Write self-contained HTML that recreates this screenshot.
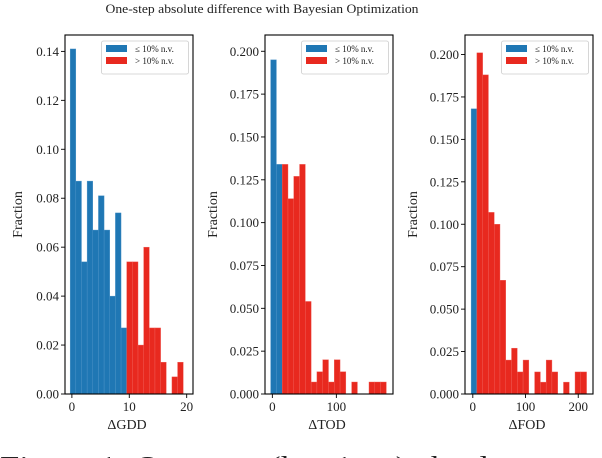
<!DOCTYPE html>
<html><head><meta charset="utf-8"><style>
html,body{margin:0;padding:0;background:#fff;overflow:hidden;width:602px;height:458px}
svg text{font-family:"Liberation Serif","Times New Roman",serif;fill:#222}
</style></head><body>
<svg id="chart" width="602" height="458" viewBox="0 0 602 458" xmlns="http://www.w3.org/2000/svg" font-family="Liberation Serif, serif">
<text x="262" y="13" font-size="13" font-family="Liberation Serif, serif" text-anchor="middle" textLength="313" lengthAdjust="spacingAndGlyphs">One-step absolute difference with Bayesian Optimization</text>
<text x="0" y="476" font-size="28" font-family="Liberation Serif, serif" textLength="602" lengthAdjust="spacingAndGlyphs">Figure 1: One-step (k = 1, ...) absolute to ...</text>
</svg>
<script>
const gddBlue=[0.141,0.087,0.054,0.087,0.067,0.081,0.067,0.040,0.074,0.027];
const gddRed=[0.054,0.054,0.020,0.060,0.027,0.027,0.013,0,0.007,0.013];
const todBlue=[0.195,0.134];
const todRed=[0.134,0.114,0.127,0.134,0.054,0.007,0.013,0.020,0.007,0.020,0.013,0,0.007,0,0,0.007,0.007,0.007];
const fodBlue=[0.168];
const fodRed=[0.201,0.188,0.107,0.100,0.067,0.020,0.027,0.013,0.020,0,0.013,0.007,0.020,0.013,0,0.007,0,0.013,0.013];
const gddYTicks=["0.00","0.02","0.04","0.06","0.08","0.10","0.12","0.14"];
const todYTicks=["0.000","0.025","0.050","0.075","0.100","0.125","0.150","0.175","0.200"];
const fodYTicks=todYTicks;
const gddXTicks=[0,10,20];
const todXTicks=[0,100];
const fodXTicks=[0,100,200];
const xLabels=["\u0394GDD","\u0394TOD","\u0394FOD"];

const svg=document.getElementById('chart');
const NS="http://www.w3.org/2000/svg";
const FF="Liberation Serif, serif";
function mk(tag,attrs,parent){const e=document.createElementNS(NS,tag);for(const k in attrs)e.setAttribute(k,attrs[k]);if(tag==='text')e.setAttribute('font-family',FF);(parent||svg).appendChild(e);return e;}

const panels=[
 {L:65,blue:gddBlue,red:gddRed,yt:gddYTicks,ystep:0.02,ymax:0.1467,xt:gddXTicks,xmin:-1.2,xmax:21.1,x0:-0.3,bw:0.985,xl:xLabels[0],name:'gdd'},
 {L:265,blue:todBlue,red:todRed,yt:todYTicks,ystep:0.025,ymax:0.2095,xt:todXTicks,xmin:-11.5,xmax:188.5,x0:-2.7,bw:9.04,xl:xLabels[1],name:'tod'},
 {L:465,blue:fodBlue,red:fodRed,yt:fodYTicks,ystep:0.025,ymax:0.2115,xt:fodXTicks,xmin:-14.8,xmax:228,x0:-3.2,bw:10.95,xl:xLabels[2],name:'fod'}
];
const T=35,B=394,W=128;
panels.forEach(p=>{
  const L=p.L,R=L+W;
  const g=mk('g',{});
  
  
  const y=v=>B-(v/p.ymax)*(B-T);
  const x=v=>L+(v-p.xmin)/(p.xmax-p.xmin)*W;
  const vals=p.blue.concat(p.red);
  vals.forEach((v,i)=>{
    if(v<=0)return;
    const x1=x(p.x0+i*p.bw),x2=x(p.x0+(i+1)*p.bw);
    const isBlue=i<p.blue.length;
    const r=mk('rect',{x:x1,y:y(v),width:x2-x1,height:B-y(v),fill:isBlue?'#1f77b4':'#e8291f',stroke:isBlue?'#4f95c8':'#f0605a','stroke-width':0.4},g);
    
    
  });
  const frame=mk('rect',{x:L,y:T,width:W,height:B-T,fill:'none',stroke:'#000','stroke-width':1.1},g);
  
  
  p.yt.forEach((t,i)=>{
    const yy=y(i*p.ystep);
    mk('line',{x1:L-4,x2:L,y1:yy,y2:yy,stroke:'#000','stroke-width':0.9},g);
    const tx=mk('text',{x:L-6,y:yy+4.5,'font-size':13,'text-anchor':'end'},g);
    tx.textContent=t;
    
    
  });
  p.xt.forEach(t=>{
    const xx=x(t);
    mk('line',{x1:xx,x2:xx,y1:B,y2:B+4,stroke:'#000','stroke-width':0.9},g);
    const tx=mk('text',{x:xx,y:B+17,'font-size':13,'text-anchor':'middle'},g);
    tx.textContent=t;
    
    
  });
  const xl=mk('text',{x:L+W/2-2,y:B+35,'font-size':14,'text-anchor':'middle'},g);
  xl.textContent=p.xl;
  
  
  const yl=mk('text',{x:0,y:0,'font-size':14,'text-anchor':'middle',transform:`translate(${L-(p.name==='gdd'?43:48)},${(T+B)/2}) rotate(-90)`},g);
  yl.textContent='Fraction';
  
  
  const lg=mk('g',{},g);
  
  
  mk('rect',{x:L+36.5,y:41,width:87,height:33,rx:2,fill:'#fff','fill-opacity':0.85,stroke:'#ccc','stroke-width':0.8},lg);
  const s1=mk('rect',{x:L+41,y:45,width:21,height:7,fill:'#1f77b4'},lg);
  
  
  const s2=mk('rect',{x:L+41,y:57,width:21,height:7,fill:'#e8291f'},lg);
  
  
  const t1=mk('text',{x:L+70,y:52,'font-size':9},lg);
  t1.textContent='\u2264 10% n.v.';
  
  
  const t2=mk('text',{x:L+70,y:64,'font-size':9},lg);
  t2.textContent='> 10% n.v.';
  
  
});
</script>
</body></html>
